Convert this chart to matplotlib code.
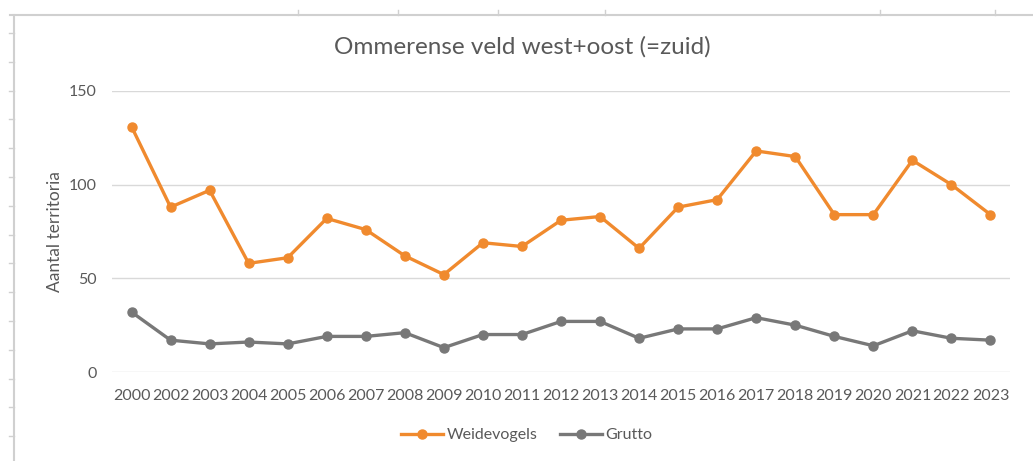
import matplotlib
matplotlib.use("Agg")
import matplotlib.pyplot as plt
from matplotlib.lines import Line2D

years = ["2000", "2002", "2003", "2004", "2005", "2006", "2007", "2008", "2009", "2010",
         "2011", "2012", "2013", "2014", "2015", "2016", "2017", "2018", "2019", "2020",
         "2021", "2022", "2023"]
weidevogels = [131, 88, 97, 58, 61, 82, 76, 62, 52, 69, 67, 81, 83, 66, 88, 92, 118, 115, 84, 84, 113, 100, 84]
grutto = [32, 17, 15, 16, 15, 19, 19, 21, 13, 20, 20, 27, 27, 18, 23, 23, 29, 25, 19, 14, 22, 18, 17]
y_ticks = [0, 50, 100, 150]

plt.rcParams['font.family'] = ['Lato', 'DejaVu Sans']
text_col = '#595959'
orange = '#F08A2E'
gray = '#787878'

W, H = 1033, 461
fig = plt.figure(figsize=(W / 100, H / 100), dpi=100)
fig.patch.set_facecolor('white')

# spreadsheet frame decoration
fig.add_artist(Line2D([10 / W, 1.0], [1 - 15 / H, 1 - 15 / H], color='#d0d0d0', lw=1.5))
fig.add_artist(Line2D([14 / W, 14 / W], [0, 1 - 15 / H], color='#d0d0d0', lw=1.5))
for tx in [298, 398, 498, 605, 880, 995]:
    fig.add_artist(Line2D([tx / W, tx / W], [1 - 10 / H, 1 - 15 / H], color='#d0d0d0', lw=1))
for k in range(15):
    ty = 33 + 28.8 * k
    fig.add_artist(Line2D([9 / W, 14 / W], [1 - ty / H, 1 - ty / H], color='#d0d0d0', lw=1))

ax = fig.add_axes([112 / W, 1 - 372 / H, (1010 - 112) / W, (372 - 91) / H])
x = list(range(len(years)))
ax.plot(x, weidevogels, color=orange, lw=2.4, marker='o', ms=6.5, label='Weidevogels', zorder=3)
ax.plot(x, grutto, color=gray, lw=2.4, marker='o', ms=6.5, label='Grutto', zorder=3)

ax.set_xlim(-0.5, len(years) - 0.5)
ax.set_ylim(0, 150)
ax.set_yticks(y_ticks)
ax.set_xticks(x)
ax.set_xticklabels(years)
ax.grid(axis='y', color='#d9d9d9', lw=1)
ax.set_axisbelow(True)
for s in ax.spines.values():
    s.set_visible(False)
ax.tick_params(axis='both', length=0, colors=text_col, labelsize=11.5)
ax.tick_params(axis='x', pad=12.5)
ax.tick_params(axis='y', pad=11)
ax.set_ylabel('Aantal territoria', color=text_col, fontsize=12.5, labelpad=4)

fig.text(522 / W, 1 - 47 / H, 'Ommerense veld west+oost (=zuid)', ha='center', va='center',
         fontsize=17.5, color=text_col)

fig.legend(loc='center', bbox_to_anchor=(527 / W, 1 - 435 / H), ncol=2, frameon=False,
           fontsize=11.5, labelcolor=text_col, handlelength=2.6, columnspacing=1.4,
           handletextpad=0.25)

fig.savefig('out.png', dpi=100)
